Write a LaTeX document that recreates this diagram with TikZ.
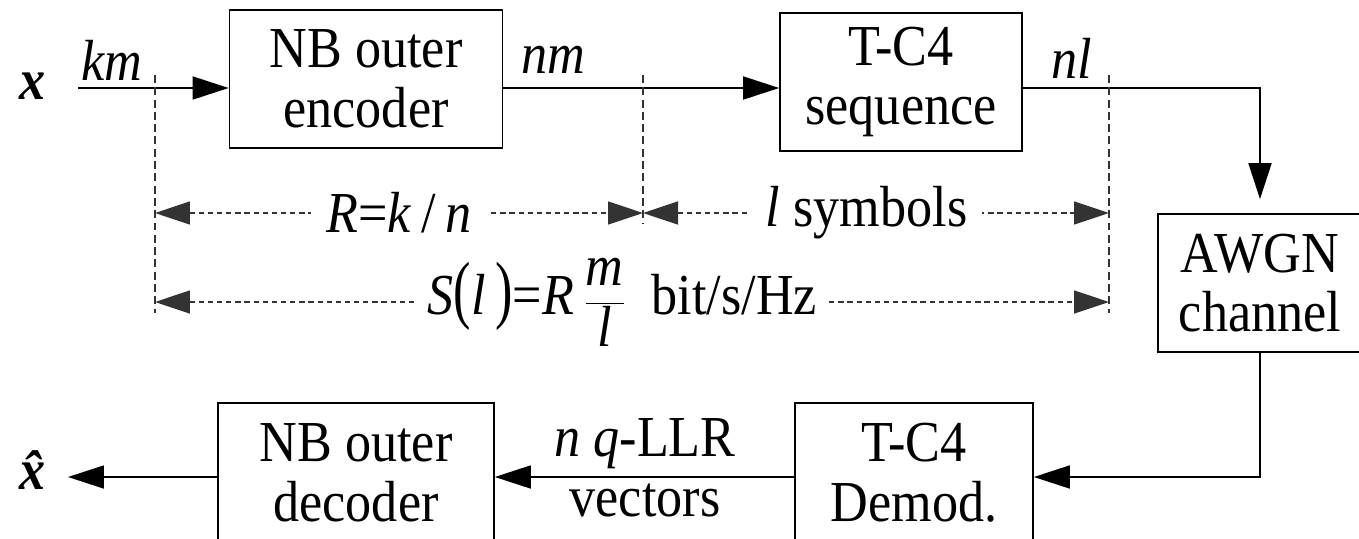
\documentclass[tikz,border=0pt]{standalone}
\usepackage{fontspec}
\setmainfont{Liberation Serif}[FakeStretch=0.9]
\usetikzlibrary{arrows.meta}

\begin{document}
\begin{tikzpicture}[x=0.02cm,y=-0.02cm,
    every node/.style={font=\fontsize{33}{34}\selectfont},
    blk/.style={draw,line width=1pt,align=center,minimum height=2.76cm,inner sep=0pt},
    sig/.style={line width=1pt,-{Triangle[length=0.72cm,width=0.46cm]}},
    guide/.style={line width=0.7pt,black!80,dash pattern=on 4.5pt off 2.5pt},
    dim/.style={line width=0.9pt,black!80,dash pattern=on 3pt off 2.2pt,
        {Triangle[length=0.7cm,width=0.46cm]}-{Triangle[length=0.7cm,width=0.46cm]}},
    dimlbl/.style={fill=white,text=black,inner xsep=0.3cm,inner ysep=0pt}]
        \useasboundingbox (0,0) rectangle (1359,538);

        \coordinate (v1) at (366,79);
        \coordinate (v2) at (901,82);
        \coordinate (v3) at (1260,283);
        \coordinate (v4) at (914,473);
        \coordinate (v5) at (356,473);
        \coordinate (xin) at (78,88);
        \coordinate (xout) at (68,477);
        \coordinate (bot) at (1259,477);

        \node[blk,minimum width=5.46cm] (enc) at (v1) {NB outer\\encoder};
        \node[blk,minimum width=4.84cm] (seq) at (v2) {T-C4\\sequence};
        \node[blk,minimum width=4.08cm] (awgn) at (v3) {AWGN\\channel};
        \node[blk,minimum width=4.76cm,minimum height=2.8cm] (demod) at (v4) {T-C4\\Demod.};
        \node[blk,minimum width=5.52cm,minimum height=2.8cm] (dec) at (v5) {NB outer\\decoder};

        \node (xlab) at (33,86) {\bfseries\itshape x};
        \node (xhat) at (33,470) {\bfseries\itshape\^{x}};
        \node (km) at (112,60) {\itshape km};
        \node (nm) at (553,60) {\itshape nm};
        \node (nl) at (1072,58) {\itshape nl};
        \node[align=center] (llr) at (645,468) {\itshape n \upshape \textit{q}-LLR\\vectors};

        \draw[sig] (xin) -- (xin -| enc.west);
        \draw[sig] (enc.east |- xin) -- (seq.west |- xin);
        \draw[sig,shorten >=0.28cm] (seq.east |- xin) -| (awgn.north);
        \draw[sig] (awgn.south) |- (demod.east |- bot);
        \draw[sig] (demod.west |- bot) -- (dec.east |- bot);
        \draw[sig] (dec.west |- bot) -- (xout);

        \coordinate (m1) at (155,75);
        \coordinate (m1b) at (155,313);
        \coordinate (m2) at (643,75);
        \coordinate (m2b) at (643,223);
        \coordinate (m3) at (1109,75);
        \coordinate (m3b) at (1109,313);
        \draw[guide] (m1) -- (m1b);
        \draw[guide] (m2) -- (m2b);
        \draw[guide] (m3) -- (m3b);

        \coordinate (r1) at (155,213);
        \coordinate (r2) at (643,213);
        \coordinate (r3) at (1109,213);
        \coordinate (s1) at (155,302);
        \coordinate (s3) at (1109,302);
        \draw[dim] (r1) -- node[dimlbl,pos=0.5] (rate) {\textit{R}=\textit{k}\,/\,\textit{n}} (r2);
        \draw[dim] (r2) -- node[dimlbl,pos=0.48] (sym) {\textit{l} symbols} (r3);
        \draw[dim] (s1) -- node[dimlbl,pos=0.49,inner xsep=0.2cm] (eff)
            {\textit{S}\scalebox{1}[1.3]{(}\textit{l}\,\scalebox{1}[1.3]{)}=\textit{R}\,$\displaystyle\frac{\hbox{\itshape m}}{\hbox{\itshape l}}$\ \ bit/s/Hz} (s3);
    \end{tikzpicture}
\end{document}
